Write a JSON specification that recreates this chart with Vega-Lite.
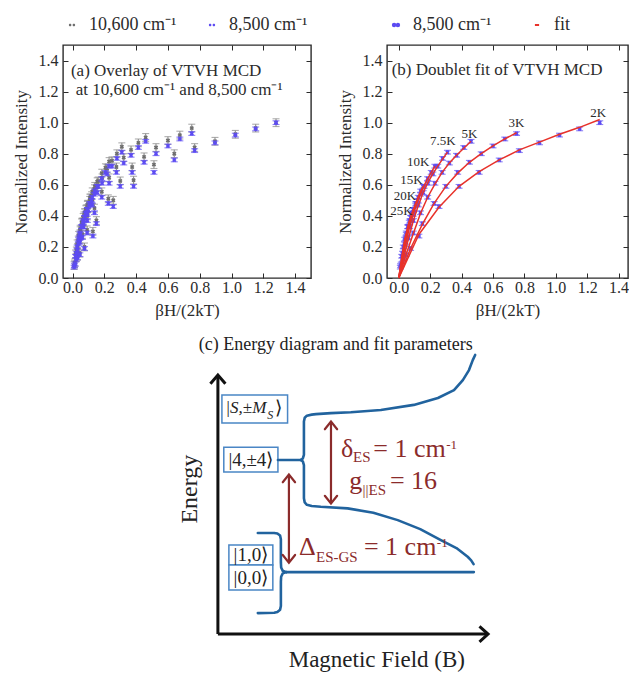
{
  "$schema": "https://vega.github.io/schema/vega-lite/v6.json",
  "background": "white",
  "padding": {"left": 11, "top": 15, "right": 0, "bottom": 0},
  "config": {
    "font": "Liberation Serif",
    "view": {"stroke": "#2b2b2b", "strokeWidth": 1.4},
    "axis": {"labelFont": "Liberation Serif", "labelFontSize": 16, "labelColor": "#2b2b2b", "titleFont": "Liberation Serif", "titleFontSize": 17, "titleFontWeight": "normal", "titleColor": "#2b2b2b", "domain": false, "grid": false, "tickSize": -5, "tickColor": "#2b2b2b", "tickWidth": 1, "labelPadding": 10, "labelFlush": false},
    "legend": {"labelFont": "Liberation Serif", "labelFontSize": 18, "labelColor": "#2b2b2b", "padding": 0, "labelOffset": 8},
    "text": {"font": "Liberation Serif", "color": "#2b2b2b"}
  },
  "datasets": {
    "mcd": [
      {"T":"2K","x":0,"fit":0},
      {"T":"2K","x":0.128,"y85":0.27,"e85":0.012,"y106":0.30,"e106":0.025,"fit":0.28},
      {"T":"2K","x":0.256,"y85":0.46,"e85":0.012,"y106":0.50,"e106":0.025,"fit":0.455},
      {"T":"2K","x":0.384,"y85":0.59,"e85":0.012,"y106":0.63,"e106":0.025,"fit":0.59},
      {"T":"2K","x":0.512,"y85":0.68,"e85":0.012,"y106":0.73,"e106":0.025,"fit":0.685},
      {"T":"2K","x":0.640,"y85":0.76,"e85":0.012,"y106":0.80,"e106":0.025,"fit":0.76},
      {"T":"2K","x":0.768,"y85":0.82,"e85":0.012,"y106":0.84,"e106":0.025,"fit":0.825},
      {"T":"2K","x":0.896,"y85":0.87,"e85":0.012,"y106":0.88,"e106":0.025,"fit":0.875},
      {"T":"2K","x":1.024,"y85":0.92,"e85":0.012,"y106":0.925,"e106":0.025,"fit":0.925},
      {"T":"2K","x":1.152,"y85":0.96,"e85":0.012,"y106":0.965,"e106":0.025,"fit":0.97},
      {"T":"2K","x":1.280,"y85":1.00,"e85":0.012,"y106":1.00,"e106":0.025,"fit":1.02},
      {"T":"3K","x":0,"fit":0},
      {"T":"3K","x":0.075,"y85":0.19,"e85":0.012,"y106":0.20,"e106":0.025,"fit":0.19},
      {"T":"3K","x":0.150,"y85":0.35,"e85":0.012,"y106":0.37,"e106":0.025,"fit":0.345},
      {"T":"3K","x":0.225,"y85":0.48,"e85":0.012,"y106":0.51,"e106":0.025,"fit":0.48},
      {"T":"3K","x":0.300,"y85":0.59,"e85":0.012,"y106":0.625,"e106":0.025,"fit":0.59},
      {"T":"3K","x":0.375,"y85":0.68,"e85":0.012,"y106":0.715,"e106":0.025,"fit":0.675},
      {"T":"3K","x":0.450,"y85":0.745,"e85":0.012,"y106":0.78,"e106":0.025,"fit":0.745},
      {"T":"3K","x":0.525,"y85":0.80,"e85":0.012,"y106":0.84,"e106":0.025,"fit":0.80},
      {"T":"3K","x":0.600,"y85":0.85,"e85":0.012,"y106":0.885,"e106":0.025,"fit":0.85},
      {"T":"3K","x":0.675,"y85":0.895,"e85":0.012,"y106":0.92,"e106":0.025,"fit":0.895},
      {"T":"3K","x":0.750,"y85":0.93,"e85":0.012,"y106":0.965,"e106":0.025,"fit":0.935},
      {"T":"5K","x":0,"fit":0},
      {"T":"5K","x":0.046,"y85":0.15,"e85":0.012,"y106":0.16,"e106":0.025,"fit":0.15},
      {"T":"5K","x":0.092,"y85":0.29,"e85":0.012,"y106":0.31,"e106":0.025,"fit":0.285},
      {"T":"5K","x":0.138,"y85":0.42,"e85":0.012,"y106":0.45,"e106":0.025,"fit":0.415},
      {"T":"5K","x":0.184,"y85":0.52,"e85":0.012,"y106":0.555,"e106":0.025,"fit":0.52},
      {"T":"5K","x":0.230,"y85":0.61,"e85":0.012,"y106":0.645,"e106":0.025,"fit":0.605},
      {"T":"5K","x":0.276,"y85":0.68,"e85":0.012,"y106":0.715,"e106":0.025,"fit":0.68},
      {"T":"5K","x":0.322,"y85":0.74,"e85":0.012,"y106":0.775,"e106":0.025,"fit":0.74},
      {"T":"5K","x":0.368,"y85":0.79,"e85":0.012,"y106":0.825,"e106":0.025,"fit":0.79},
      {"T":"5K","x":0.414,"y85":0.84,"e85":0.012,"y106":0.87,"e106":0.025,"fit":0.835},
      {"T":"5K","x":0.460,"y85":0.88,"e85":0.012,"y106":0.905,"e106":0.025,"fit":0.88},
      {"T":"7.5K","x":0,"fit":0},
      {"T":"7.5K","x":0.031,"y85":0.13,"e85":0.012,"y106":0.14,"e106":0.025,"fit":0.13},
      {"T":"7.5K","x":0.062,"y85":0.26,"e85":0.012,"y106":0.28,"e106":0.025,"fit":0.255},
      {"T":"7.5K","x":0.093,"y85":0.37,"e85":0.012,"y106":0.40,"e106":0.025,"fit":0.37},
      {"T":"7.5K","x":0.124,"y85":0.47,"e85":0.012,"y106":0.505,"e106":0.025,"fit":0.465},
      {"T":"7.5K","x":0.155,"y85":0.55,"e85":0.012,"y106":0.585,"e106":0.025,"fit":0.55},
      {"T":"7.5K","x":0.186,"y85":0.61,"e85":0.012,"y106":0.645,"e106":0.025,"fit":0.615},
      {"T":"7.5K","x":0.217,"y85":0.67,"e85":0.012,"y106":0.705,"e106":0.025,"fit":0.67},
      {"T":"7.5K","x":0.248,"y85":0.72,"e85":0.012,"y106":0.755,"e106":0.025,"fit":0.72},
      {"T":"7.5K","x":0.279,"y85":0.77,"e85":0.012,"y106":0.80,"e106":0.025,"fit":0.765},
      {"T":"7.5K","x":0.310,"y85":0.81,"e85":0.012,"y106":0.845,"e106":0.025,"fit":0.81},
      {"T":"10K","x":0,"fit":0},
      {"T":"10K","x":0.023,"y85":0.12,"e85":0.012,"y106":0.13,"e106":0.025,"fit":0.12},
      {"T":"10K","x":0.046,"y85":0.23,"e85":0.012,"y106":0.25,"e106":0.025,"fit":0.23},
      {"T":"10K","x":0.069,"y85":0.33,"e85":0.012,"y106":0.36,"e106":0.025,"fit":0.33},
      {"T":"10K","x":0.092,"y85":0.41,"e85":0.012,"y106":0.445,"e106":0.025,"fit":0.41},
      {"T":"10K","x":0.115,"y85":0.48,"e85":0.012,"y106":0.515,"e106":0.025,"fit":0.48},
      {"T":"10K","x":0.138,"y85":0.54,"e85":0.012,"y106":0.575,"e106":0.025,"fit":0.54},
      {"T":"10K","x":0.161,"y85":0.59,"e85":0.012,"y106":0.625,"e106":0.025,"fit":0.595},
      {"T":"10K","x":0.184,"y85":0.64,"e85":0.012,"y106":0.675,"e106":0.025,"fit":0.64},
      {"T":"10K","x":0.207,"y85":0.68,"e85":0.012,"y106":0.71,"e106":0.025,"fit":0.68},
      {"T":"10K","x":0.230,"y85":0.72,"e85":0.012,"y106":0.75,"e106":0.025,"fit":0.72},
      {"T":"15K","x":0,"fit":0},
      {"T":"15K","x":0.016,"y85":0.09,"e85":0.012,"y106":0.10,"e106":0.025,"fit":0.09},
      {"T":"15K","x":0.031,"y85":0.18,"e85":0.012,"y106":0.195,"e106":0.025,"fit":0.175},
      {"T":"15K","x":0.047,"y85":0.26,"e85":0.012,"y106":0.285,"e106":0.025,"fit":0.26},
      {"T":"15K","x":0.062,"y85":0.33,"e85":0.012,"y106":0.36,"e106":0.025,"fit":0.33},
      {"T":"15K","x":0.078,"y85":0.39,"e85":0.012,"y106":0.42,"e106":0.025,"fit":0.39},
      {"T":"15K","x":0.093,"y85":0.44,"e85":0.012,"y106":0.47,"e106":0.025,"fit":0.44},
      {"T":"15K","x":0.109,"y85":0.48,"e85":0.012,"y106":0.515,"e106":0.025,"fit":0.485},
      {"T":"15K","x":0.124,"y85":0.52,"e85":0.012,"y106":0.555,"e106":0.025,"fit":0.525},
      {"T":"15K","x":0.140,"y85":0.56,"e85":0.012,"y106":0.59,"e106":0.025,"fit":0.56},
      {"T":"15K","x":0.155,"y85":0.59,"e85":0.012,"y106":0.62,"e106":0.025,"fit":0.59},
      {"T":"20K","x":0,"fit":0},
      {"T":"20K","x":0.012,"y85":0.08,"e85":0.012,"y106":0.09,"e106":0.025,"fit":0.08},
      {"T":"20K","x":0.024,"y85":0.16,"e85":0.012,"y106":0.175,"e106":0.025,"fit":0.155},
      {"T":"20K","x":0.036,"y85":0.22,"e85":0.012,"y106":0.245,"e106":0.025,"fit":0.225},
      {"T":"20K","x":0.048,"y85":0.28,"e85":0.012,"y106":0.305,"e106":0.025,"fit":0.28},
      {"T":"20K","x":0.060,"y85":0.33,"e85":0.012,"y106":0.36,"e106":0.025,"fit":0.33},
      {"T":"20K","x":0.072,"y85":0.37,"e85":0.012,"y106":0.40,"e106":0.025,"fit":0.375},
      {"T":"20K","x":0.084,"y85":0.41,"e85":0.012,"y106":0.44,"e106":0.025,"fit":0.415},
      {"T":"20K","x":0.096,"y85":0.44,"e85":0.012,"y106":0.475,"e106":0.025,"fit":0.445},
      {"T":"20K","x":0.108,"y85":0.47,"e85":0.012,"y106":0.50,"e106":0.025,"fit":0.475},
      {"T":"20K","x":0.120,"y85":0.50,"e85":0.012,"y106":0.53,"e106":0.025,"fit":0.50},
      {"T":"25K","x":0,"fit":0},
      {"T":"25K","x":0.010,"y85":0.07,"e85":0.012,"y106":0.08,"e106":0.025,"fit":0.07},
      {"T":"25K","x":0.019,"y85":0.14,"e85":0.012,"y106":0.155,"e106":0.025,"fit":0.135},
      {"T":"25K","x":0.029,"y85":0.20,"e85":0.012,"y106":0.22,"e106":0.025,"fit":0.195},
      {"T":"25K","x":0.038,"y85":0.25,"e85":0.012,"y106":0.275,"e106":0.025,"fit":0.25},
      {"T":"25K","x":0.048,"y85":0.29,"e85":0.012,"y106":0.315,"e106":0.025,"fit":0.29},
      {"T":"25K","x":0.057,"y85":0.33,"e85":0.012,"y106":0.355,"e106":0.025,"fit":0.33},
      {"T":"25K","x":0.067,"y85":0.36,"e85":0.012,"y106":0.39,"e106":0.025,"fit":0.365},
      {"T":"25K","x":0.076,"y85":0.39,"e85":0.012,"y106":0.42,"e106":0.025,"fit":0.395},
      {"T":"25K","x":0.086,"y85":0.42,"e85":0.012,"y106":0.445,"e106":0.025,"fit":0.42},
      {"T":"25K","x":0.095,"y85":0.44,"e85":0.012,"y106":0.47,"e106":0.025,"fit":0.445}
    ],
    "notesA": [
      {"x": -0.01, "y": 1.335, "t": "(a) Overlay of VTVH MCD"},
      {"x": 0.02, "y": 1.21, "t": "at 10,600 cm⁻¹ and 8,500 cm⁻¹"}
    ],
    "notesB": [
      {"x": -0.045, "y": 1.34, "t": "(b) Doublet fit of VTVH MCD"}
    ],
    "temps": [
      {"T": "2K", "x": 1.27, "y": 1.06},
      {"T": "3K", "x": 0.75, "y": 1.0},
      {"T": "5K", "x": 0.45, "y": 0.93},
      {"T": "7.5K", "x": 0.28, "y": 0.88},
      {"T": "10K", "x": 0.123, "y": 0.75},
      {"T": "15K", "x": 0.08, "y": 0.63},
      {"T": "20K", "x": 0.04, "y": 0.53},
      {"T": "25K", "x": 0.017, "y": 0.43}
    ],
    "frameArrows": [
      {"id": "v", "o": 0, "X": 0, "Y": 0}, {"id": "v", "o": 1, "X": 0, "Y": 10.1},
      {"id": "vh", "o": 0, "X": -0.28, "Y": 9.78}, {"id": "vh", "o": 1, "X": 0, "Y": 10.12}, {"id": "vh", "o": 2, "X": 0.28, "Y": 9.78},
      {"id": "h", "o": 0, "X": 0, "Y": 0}, {"id": "h", "o": 1, "X": 10.07, "Y": 0},
      {"id": "hh", "o": 0, "X": 9.76, "Y": 0.3}, {"id": "hh", "o": 1, "X": 10.08, "Y": 0}, {"id": "hh", "o": 2, "X": 9.76, "Y": -0.3}
    ],
    "levels": [
      {"id": "gsL", "o": 0, "X": 2.55, "Y": 2.42}, {"id": "gsL", "o": 1, "X": 9.55, "Y": 2.42},
      {"id": "gsU", "o": 0, "X": 2.55, "Y": 2.42}, {"id": "gsU", "o": 1, "X": 2.42, "Y": 2.47}, {"id": "gsU", "o": 2, "X": 2.36, "Y": 2.6}, {"id": "gsU", "o": 3, "X": 2.35, "Y": 2.8}, {"id": "gsU", "o": 4, "X": 2.35, "Y": 3.7}, {"id": "gsU", "o": 5, "X": 2.32, "Y": 3.85}, {"id": "gsU", "o": 6, "X": 2.22, "Y": 3.93}, {"id": "gsU", "o": 7, "X": 2.1, "Y": 3.95}, {"id": "gsU", "o": 8, "X": 1.49, "Y": 3.95},
      {"id": "gsD", "o": 0, "X": 2.55, "Y": 2.42}, {"id": "gsD", "o": 1, "X": 2.42, "Y": 2.37}, {"id": "gsD", "o": 2, "X": 2.36, "Y": 2.24}, {"id": "gsD", "o": 3, "X": 2.35, "Y": 2.05}, {"id": "gsD", "o": 4, "X": 2.35, "Y": 1.1}, {"id": "gsD", "o": 5, "X": 2.32, "Y": 0.95}, {"id": "gsD", "o": 6, "X": 2.22, "Y": 0.86}, {"id": "gsD", "o": 7, "X": 2.1, "Y": 0.83}, {"id": "gsD", "o": 8, "X": 1.49, "Y": 0.82},
      {"id": "esL", "o": 0, "X": 2.24, "Y": 6.8}, {"id": "esL", "o": 1, "X": 3.1, "Y": 6.8},
      {"id": "esU", "o": 0, "X": 3.1, "Y": 6.8}, {"id": "esU", "o": 1, "X": 3.17, "Y": 6.86}, {"id": "esU", "o": 2, "X": 3.21, "Y": 7.0}, {"id": "esU", "o": 3, "X": 3.21, "Y": 8.3}, {"id": "esU", "o": 4, "X": 3.24, "Y": 8.45}, {"id": "esU", "o": 5, "X": 3.32, "Y": 8.53}, {"id": "esU", "o": 6, "X": 3.5, "Y": 8.57}, {"id": "esU", "o": 7, "X": 3.66, "Y": 8.59}, {"id": "esU", "o": 8, "X": 4.22, "Y": 8.63}, {"id": "esU", "o": 9, "X": 4.96, "Y": 8.66}, {"id": "esU", "o": 10, "X": 6.08, "Y": 8.75}, {"id": "esU", "o": 11, "X": 7.31, "Y": 8.95}, {"id": "esU", "o": 12, "X": 8.21, "Y": 9.22}, {"id": "esU", "o": 13, "X": 8.81, "Y": 9.53}, {"id": "esU", "o": 14, "X": 9.14, "Y": 9.92}, {"id": "esU", "o": 15, "X": 9.37, "Y": 10.31}, {"id": "esU", "o": 16, "X": 9.51, "Y": 10.7}, {"id": "esU", "o": 17, "X": 9.6, "Y": 10.9},
      {"id": "esD", "o": 0, "X": 3.1, "Y": 6.8}, {"id": "esD", "o": 1, "X": 3.17, "Y": 6.74}, {"id": "esD", "o": 2, "X": 3.21, "Y": 6.6}, {"id": "esD", "o": 3, "X": 3.21, "Y": 5.3}, {"id": "esD", "o": 4, "X": 3.24, "Y": 5.14}, {"id": "esD", "o": 5, "X": 3.32, "Y": 5.05}, {"id": "esD", "o": 6, "X": 3.5, "Y": 5.0}, {"id": "esD", "o": 7, "X": 3.84, "Y": 4.97}, {"id": "esD", "o": 8, "X": 4.84, "Y": 4.91}, {"id": "esD", "o": 9, "X": 5.8, "Y": 4.74}, {"id": "esD", "o": 10, "X": 6.71, "Y": 4.45}, {"id": "esD", "o": 11, "X": 7.55, "Y": 4.1}, {"id": "esD", "o": 12, "X": 8.32, "Y": 3.67}, {"id": "esD", "o": 13, "X": 8.9, "Y": 3.36}, {"id": "esD", "o": 14, "X": 9.32, "Y": 3.02}, {"id": "esD", "o": 15, "X": 9.45, "Y": 2.88}, {"id": "esD", "o": 16, "X": 9.54, "Y": 2.73}
    ],
    "gaps": [
      {"id": "dA", "o": 0, "X": 4.22, "Y": 5.12}, {"id": "dA", "o": 1, "X": 4.22, "Y": 8.28},
      {"id": "dT", "o": 0, "X": 3.99, "Y": 8.0}, {"id": "dT", "o": 1, "X": 4.22, "Y": 8.3}, {"id": "dT", "o": 2, "X": 4.45, "Y": 8.0},
      {"id": "dB", "o": 0, "X": 3.99, "Y": 5.4}, {"id": "dB", "o": 1, "X": 4.22, "Y": 5.1}, {"id": "dB", "o": 2, "X": 4.45, "Y": 5.4},
      {"id": "DA", "o": 0, "X": 2.65, "Y": 2.81}, {"id": "DA", "o": 1, "X": 2.65, "Y": 6.21},
      {"id": "DT", "o": 0, "X": 2.42, "Y": 5.93}, {"id": "DT", "o": 1, "X": 2.65, "Y": 6.23}, {"id": "DT", "o": 2, "X": 2.88, "Y": 5.93},
      {"id": "DB", "o": 0, "X": 2.42, "Y": 3.09}, {"id": "DB", "o": 1, "X": 2.65, "Y": 2.79}, {"id": "DB", "o": 2, "X": 2.88, "Y": 3.09}
    ],
    "boxes": [
      {"X1": 0.15, "X2": 2.6, "Y1": 8.24, "Y2": 9.34},
      {"X1": 0.22, "X2": 2.24, "Y1": 6.33, "Y2": 7.3},
      {"X1": 0.41, "X2": 2.05, "Y1": 2.7, "Y2": 3.48},
      {"X1": 0.41, "X2": 2.05, "Y1": 1.72, "Y2": 2.7}
    ],
    "kets": [
      {"X": 1.23, "Y": 6.8, "t": "|4,±4⟩"},
      {"X": 1.23, "Y": 3.09, "t": "|1,0⟩"},
      {"X": 1.23, "Y": 2.19, "t": "|0,0⟩"},
      {"X": 2.25, "Y": 8.83, "t": "⟩"}
    ],
    "ketItalic": [{"X": 0.28, "Y": 8.83, "t": "|S,±M"}],
    "ketSub": [{"X": 1.84, "Y": 8.55, "t": "S"}],
    "paramMain": [
      {"X": 4.59, "Y": 6.93, "t": "δ"},
      {"X": 5.8, "Y": 6.93, "t": "= 1 cm"},
      {"X": 4.9, "Y": 5.66, "t": "g"},
      {"X": 6.42, "Y": 5.66, "t": "= 16"},
      {"X": 3.03, "Y": 3.09, "t": "Δ"},
      {"X": 5.45, "Y": 3.09, "t": "= 1 cm"}
    ],
    "paramSub": [
      {"X": 5.04, "Y": 6.72, "t": "ES"},
      {"X": 5.4, "Y": 5.43, "t": "||ES"},
      {"X": 3.66, "Y": 2.81, "t": "ES-GS"}
    ],
    "paramSup": [
      {"X": 8.52, "Y": 7.23, "t": "-1"},
      {"X": 8.17, "Y": 3.4, "t": "-1"}
    ],
    "heading": [{"X": 4.4, "Y": 11.29, "t": "(c) Energy diagram and fit parameters"}],
    "yCaption": [{"X": -1.04, "Y": 5.66, "t": "Energy"}],
    "xCaption": [{"X": 5.93, "Y": -1.02, "t": "Magnetic Field (B)"}]
  },
  "spacing": 11,
  "vconcat": [
    {
      "spacing": 22,
      "resolve": {"scale": {"color": "independent"}, "legend": {"color": "independent"}},
      "hconcat": [
        {
          "width": 248,
          "height": 233,
          "data": {"name": "mcd"},
          "resolve": {"axis": {"x": "independent", "y": "independent"}},
          "layer": [
            {
              "transform": [{"filter": "isValid(datum.y106)"}],
              "mark": {"type": "errorbar", "ticks": {"size": 7}, "color": "#8c8c8c", "thickness": 1.1},
              "encoding": {
                "x": {"field": "x", "type": "quantitative", "scale": {"domain": [-0.06, 1.5], "nice": false}, "axis": null},
                "y": {"field": "y106", "type": "quantitative", "scale": {"domain": [0, 1.5], "nice": false}, "axis": null},
                "yError": {"field": "e106"}
              }
            },
            {
              "transform": [{"filter": "isValid(datum.y106)"}],
              "mark": {"type": "point", "shape": "cross", "angle": 45, "filled": true, "size": 20, "opacity": 1},
              "encoding": {
                "x": {"field": "x", "type": "quantitative", "axis": {"values": [0, 0.2, 0.4, 0.6, 0.8, 1, 1.2, 1.4], "format": ".1f", "title": "βH/(2kT)", "labelPadding": 6, "titlePadding": 7}},
                "y": {"field": "y106", "type": "quantitative", "axis": {"values": [0, 0.2, 0.4, 0.6, 0.8, 1, 1.2, 1.4], "format": ".1f", "title": "Normalized Intensity", "titlePadding": 8}},
                "color": {
                  "datum": "10,600 cm⁻¹", "type": "nominal",
                  "scale": {"domain": ["10,600 cm⁻¹", "8,500 cm⁻¹"], "range": ["#6e6e6e", "#5c4bf2"]},
                  "legend": {"title": null, "orient": "top", "direction": "horizontal", "symbolType": "M-0.42,0a0.17,0.17 0 1,0 0.34,0a0.17,0.17 0 1,0 -0.34,0M0.08,0a0.17,0.17 0 1,0 0.34,0a0.17,0.17 0 1,0 -0.34,0", "symbolSize": 225, "symbolStrokeWidth": 0, "columnPadding": 26, "offset": 10}
                }
              }
            },
            {
              "transform": [{"filter": "isValid(datum.y85)"}],
              "mark": {"type": "errorbar", "ticks": {"size": 7}, "color": "#5c4bf2", "thickness": 1.1},
              "encoding": {
                "x": {"field": "x", "type": "quantitative", "axis": null},
                "y": {"field": "y85", "type": "quantitative", "axis": null},
                "yError": {"field": "e85"}
              }
            },
            {
              "transform": [{"filter": "isValid(datum.y85)"}],
              "mark": {"type": "point", "shape": "cross", "angle": 45, "filled": true, "size": 20, "opacity": 1},
              "encoding": {
                "x": {"field": "x", "type": "quantitative", "axis": null},
                "y": {"field": "y85", "type": "quantitative", "axis": null},
                "color": {"datum": "8,500 cm⁻¹", "type": "nominal"}
              }
            },
            {
              "data": {"name": "notesA"},
              "mark": {"type": "text", "align": "left", "baseline": "middle", "fontSize": 17},
              "encoding": {
                "x": {"field": "x", "type": "quantitative", "axis": {"orient": "top", "labels": false, "title": null, "values": [0, 0.2, 0.4, 0.6, 0.8, 1, 1.2, 1.4]}},
                "y": {"field": "y", "type": "quantitative", "axis": {"orient": "right", "labels": false, "title": null, "values": [0, 0.2, 0.4, 0.6, 0.8, 1, 1.2, 1.4]}},
                "text": {"field": "t"}
              }
            }
          ]
        },
        {
          "width": 241,
          "height": 233,
          "data": {"name": "mcd"},
          "resolve": {"axis": {"x": "independent", "y": "independent"}},
          "layer": [
            {
              "transform": [{"filter": "isValid(datum.y85)"}],
              "mark": {"type": "errorbar", "ticks": {"size": 7}, "color": "#5c4bf2", "thickness": 1.1},
              "encoding": {
                "x": {"field": "x", "type": "quantitative", "scale": {"domain": [-0.075, 1.46], "nice": false}, "axis": null},
                "y": {"field": "y85", "type": "quantitative", "scale": {"domain": [0, 1.5], "nice": false}, "axis": null},
                "yError": {"field": "e85"}
              }
            },
            {
              "transform": [{"filter": "isValid(datum.y85)"}],
              "mark": {"type": "point", "shape": "cross", "angle": 45, "filled": true, "size": 20, "opacity": 1},
              "encoding": {
                "x": {"field": "x", "type": "quantitative", "axis": {"values": [0, 0.2, 0.4, 0.6, 0.8, 1, 1.2, 1.4], "format": ".1f", "title": "βH/(2kT)", "labelPadding": 6, "titlePadding": 7}},
                "y": {"field": "y85", "type": "quantitative", "axis": {"values": [0, 0.2, 0.4, 0.6, 0.8, 1, 1.2, 1.4], "format": ".1f", "title": "Normalized Intensity", "titlePadding": 8}},
                "color": {
                  "datum": "8,500 cm⁻¹", "type": "nominal",
                  "scale": {"domain": ["8,500 cm⁻¹", "fit"], "range": ["#5c4bf2", "#e8322a"]},
                  "legend": {
                    "title": null, "orient": "top", "direction": "horizontal", "symbolType": "M-0.42,0a0.17,0.17 0 1,0 0.34,0a0.17,0.17 0 1,0 -0.34,0M0.08,0a0.17,0.17 0 1,0 0.34,0a0.17,0.17 0 1,0 -0.34,0", "symbolSize": 225, "columnPadding": 36, "offset": 10,
                    "encode": {"symbols": {"update": {
                      "shape": {"signal": "datum.value === 'fit' ? 'M-0.28,0H0.28' : 'M-0.42,0a0.17,0.17 0 1,0 0.34,0a0.17,0.17 0 1,0 -0.34,0M0.08,0a0.17,0.17 0 1,0 0.34,0a0.17,0.17 0 1,0 -0.34,0'"},
                      "fill": {"signal": "datum.value === 'fit' ? 'transparent' : '#5c4bf2'"},
                      "stroke": {"signal": "datum.value === 'fit' ? '#e8322a' : 'transparent'"},
                      "strokeWidth": {"value": 2},
                      "opacity": {"value": 1}
                    }}}
                  }
                }
              }
            },
            {
              "mark": {"type": "line", "color": "#e8322a", "strokeWidth": 1.5},
              "encoding": {
                "x": {"field": "x", "type": "quantitative", "axis": null},
                "y": {"field": "fit", "type": "quantitative", "axis": null},
                "detail": {"field": "T"},
                "order": {"field": "x"},
                "color": {
                  "datum": "fit", "type": "nominal",
                  "legend": {
                    "title": null, "orient": "top", "direction": "horizontal", "symbolType": "M-0.42,0a0.17,0.17 0 1,0 0.34,0a0.17,0.17 0 1,0 -0.34,0M0.08,0a0.17,0.17 0 1,0 0.34,0a0.17,0.17 0 1,0 -0.34,0", "symbolSize": 225, "columnPadding": 36, "offset": 10,
                    "encode": {"symbols": {"update": {
                      "shape": {"signal": "datum.value === 'fit' ? 'M-0.28,0H0.28' : 'M-0.42,0a0.17,0.17 0 1,0 0.34,0a0.17,0.17 0 1,0 -0.34,0M0.08,0a0.17,0.17 0 1,0 0.34,0a0.17,0.17 0 1,0 -0.34,0'"},
                      "fill": {"signal": "datum.value === 'fit' ? 'transparent' : '#5c4bf2'"},
                      "stroke": {"signal": "datum.value === 'fit' ? '#e8322a' : 'transparent'"},
                      "strokeWidth": {"value": 2},
                      "opacity": {"value": 1}
                    }}}
                  }
                }
              }
            },
            {
              "data": {"name": "temps"},
              "mark": {"type": "text", "align": "center", "baseline": "middle", "fontSize": 13},
              "encoding": {
                "x": {"field": "x", "type": "quantitative", "axis": null},
                "y": {"field": "y", "type": "quantitative", "axis": null},
                "text": {"field": "T"}
              }
            },
            {
              "data": {"name": "notesB"},
              "mark": {"type": "text", "align": "left", "baseline": "middle", "fontSize": 17},
              "encoding": {
                "x": {"field": "x", "type": "quantitative", "axis": {"orient": "top", "labels": false, "title": null, "values": [0, 0.2, 0.4, 0.6, 0.8, 1, 1.2, 1.4]}},
                "y": {"field": "y", "type": "quantitative", "axis": {"orient": "right", "labels": false, "title": null, "values": [0, 0.2, 0.4, 0.6, 0.8, 1, 1.2, 1.4]}},
                "text": {"field": "t"}
              }
            }
          ]
        }
      ]
    },
    {
      "width": 566,
      "height": 343,
      "view": {"stroke": null},
      "layer": [
        {
          "data": {"name": "boxes"},
          "mark": {"type": "rect", "fill": "white", "stroke": "#4a86c5", "strokeWidth": 1.5},
          "encoding": {
            "x": {"field": "X1", "type": "quantitative", "scale": {"domain": [-5.78, 15.34], "nice": false, "zero": false}, "axis": null},
            "x2": {"field": "X2"},
            "y": {"field": "Y1", "type": "quantitative", "scale": {"domain": [-1.52, 11.875], "nice": false, "zero": false}, "axis": null},
            "y2": {"field": "Y2"}
          }
        },
        {
          "data": {"name": "levels"},
          "mark": {"type": "line", "color": "#21639e", "strokeWidth": 2.6, "strokeCap": "round", "strokeJoin": "round"},
          "encoding": {
            "x": {"field": "X", "type": "quantitative", "axis": null},
            "y": {"field": "Y", "type": "quantitative", "axis": null},
            "detail": {"field": "id"},
            "order": {"field": "o"}
          }
        },
        {
          "data": {"name": "gaps"},
          "mark": {"type": "line", "color": "#8b2b2b", "strokeWidth": 2.2, "strokeCap": "round", "strokeJoin": "miter"},
          "encoding": {
            "x": {"field": "X", "type": "quantitative", "axis": null},
            "y": {"field": "Y", "type": "quantitative", "axis": null},
            "detail": {"field": "id"},
            "order": {"field": "o"}
          }
        },
        {
          "data": {"name": "frameArrows"},
          "mark": {"type": "line", "color": "#111111", "strokeWidth": 3, "strokeCap": "butt", "strokeJoin": "miter"},
          "encoding": {
            "x": {"field": "X", "type": "quantitative", "axis": null},
            "y": {"field": "Y", "type": "quantitative", "axis": null},
            "detail": {"field": "id"},
            "order": {"field": "o"}
          }
        },
        {
          "data": {"name": "kets"},
          "mark": {"type": "text", "align": "center", "baseline": "middle", "fontSize": 19, "color": "#222222"},
          "encoding": {
            "x": {"field": "X", "type": "quantitative"},
            "y": {"field": "Y", "type": "quantitative"},
            "text": {"field": "t"}
          }
        },
        {
          "data": {"name": "ketItalic"},
          "mark": {"type": "text", "align": "left", "baseline": "middle", "fontSize": 17, "fontStyle": "italic", "color": "#222222"},
          "encoding": {
            "x": {"field": "X", "type": "quantitative"},
            "y": {"field": "Y", "type": "quantitative"},
            "text": {"field": "t"}
          }
        },
        {
          "data": {"name": "ketSub"},
          "mark": {"type": "text", "align": "left", "baseline": "middle", "fontSize": 12, "fontStyle": "italic", "color": "#222222"},
          "encoding": {
            "x": {"field": "X", "type": "quantitative"},
            "y": {"field": "Y", "type": "quantitative"},
            "text": {"field": "t"}
          }
        },
        {
          "data": {"name": "paramMain"},
          "mark": {"type": "text", "align": "left", "baseline": "alphabetic", "fontSize": 26, "color": "#8b2b2b"},
          "encoding": {
            "x": {"field": "X", "type": "quantitative"},
            "y": {"field": "Y", "type": "quantitative"},
            "text": {"field": "t"}
          }
        },
        {
          "data": {"name": "paramSub"},
          "mark": {"type": "text", "align": "left", "baseline": "alphabetic", "fontSize": 15, "color": "#8b2b2b"},
          "encoding": {
            "x": {"field": "X", "type": "quantitative"},
            "y": {"field": "Y", "type": "quantitative"},
            "text": {"field": "t"}
          }
        },
        {
          "data": {"name": "paramSup"},
          "mark": {"type": "text", "align": "left", "baseline": "alphabetic", "fontSize": 13, "color": "#8b2b2b"},
          "encoding": {
            "x": {"field": "X", "type": "quantitative"},
            "y": {"field": "Y", "type": "quantitative"},
            "text": {"field": "t"}
          }
        },
        {
          "data": {"name": "heading"},
          "mark": {"type": "text", "align": "center", "baseline": "middle", "fontSize": 18, "color": "#222222"},
          "encoding": {
            "x": {"field": "X", "type": "quantitative"},
            "y": {"field": "Y", "type": "quantitative"},
            "text": {"field": "t"}
          }
        },
        {
          "data": {"name": "yCaption"},
          "mark": {"type": "text", "align": "center", "baseline": "middle", "angle": 270, "fontSize": 24, "color": "#222222"},
          "encoding": {
            "x": {"field": "X", "type": "quantitative"},
            "y": {"field": "Y", "type": "quantitative"},
            "text": {"field": "t"}
          }
        },
        {
          "data": {"name": "xCaption"},
          "mark": {"type": "text", "align": "center", "baseline": "middle", "fontSize": 23, "color": "#222222"},
          "encoding": {
            "x": {"field": "X", "type": "quantitative"},
            "y": {"field": "Y", "type": "quantitative"},
            "text": {"field": "t"}
          }
        }
      ]
    }
  ]
}
